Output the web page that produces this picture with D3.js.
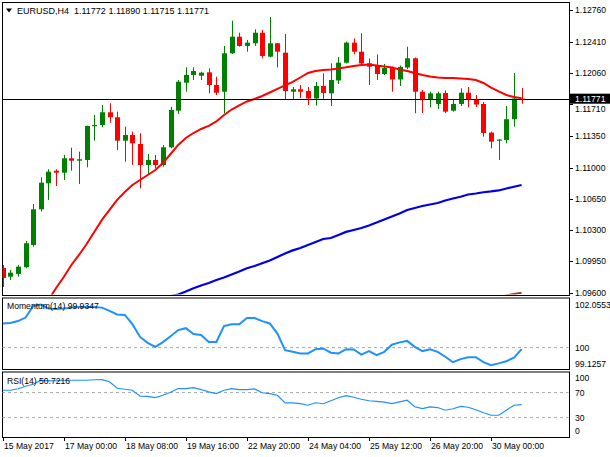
<!DOCTYPE html>
<html><head><meta charset="utf-8">
<script src="https://cdn.jsdelivr.net/npm/d3@7"></script>
<style>
body{margin:0;background:#fff;}
svg{display:block;}
text{font-family:"Liberation Sans",Arial,sans-serif;fill:#000;}
</style>
</head><body>
<svg id="c" width="610" height="457"></svg>
<script>
// ---------- DATA ----------
const symbol = "EURUSD,H4";
const open = [1.09877,1.09779,1.09810,1.09885,1.10134,1.10533,1.10824,1.10965,1.10943,1.11104,
1.11077,1.11085,1.11466,1.11477,1.11619,1.11563,1.11301,1.11365,1.11264,1.11029,
1.11085,1.11029,1.11227,1.11637,1.11950,1.12036,1.12028,1.12066,1.11924,1.11849,
1.12279,1.12465,1.12361,1.12391,1.12509,1.12241,1.12391,1.12286,1.11849,1.11876,
1.11857,1.11773,1.11913,1.11831,1.11975,1.12174,1.12398,1.12297,1.12167,1.12137,
1.12047,1.12114,1.11986,1.12120,1.12223,1.11849,1.11762,1.11712,1.11835,1.11637,
1.11712,1.11838,1.11768,1.11712,1.11391,1.11301,1.11309,1.11541,1.11772];
const high = [1.09910,1.09854,1.09910,1.10179,1.10593,1.10892,1.10981,1.10981,1.11141,1.11223,
1.11178,1.11470,1.11589,1.11700,1.11720,1.11626,1.11458,1.11402,1.11384,1.11152,
1.11141,1.11253,1.11681,1.11980,1.12122,1.12122,1.12073,1.12111,1.12017,1.12361,
1.12644,1.12509,1.12428,1.12547,1.12540,1.12685,1.12394,1.12495,1.11902,1.11924,
1.11902,1.11958,1.12055,1.12167,1.12238,1.12409,1.12445,1.12503,1.12221,1.12266,
1.12159,1.12131,1.12142,1.12353,1.12232,1.11868,1.11849,1.11849,1.11863,1.11762,
1.11887,1.11902,1.11812,1.11734,1.11402,1.11317,1.11689,1.12059,1.11890];
const low = [1.09664,1.09742,1.09779,1.09873,1.10115,1.10507,1.10638,1.10794,1.10861,1.10965,
1.10817,1.11003,1.11301,1.11451,1.11502,1.11197,1.11066,1.11029,1.10768,1.10917,
1.10992,1.11010,1.11216,1.11600,1.11849,1.11980,1.11980,1.11831,1.11812,1.11608,
1.12271,1.12353,1.12297,1.12361,1.12223,1.12234,1.12120,1.11756,1.11756,1.11779,
1.11700,1.11695,1.11768,1.11689,1.11935,1.12167,1.12266,1.12137,1.11924,1.11980,
1.12036,1.11849,1.11913,1.12103,1.11608,1.11611,1.11675,1.11656,1.11608,1.11626,
1.11689,1.11675,1.11678,1.11346,1.11216,1.11085,1.11272,1.11458,1.11715];
const close = [1.09765,1.09824,1.09891,1.10153,1.10533,1.10831,1.10954,1.10943,1.11104,1.11077,
1.11093,1.11466,1.11477,1.11619,1.11563,1.11301,1.11365,1.11272,1.11029,1.11085,
1.11029,1.11227,1.11645,1.11961,1.12036,1.12081,1.12062,1.11924,1.11838,1.12279,
1.12465,1.12361,1.12398,1.12509,1.12249,1.12391,1.12297,1.11857,1.11876,1.11849,
1.11773,1.11913,1.11835,1.11980,1.12174,1.12398,1.12297,1.12165,1.12129,1.12047,
1.12114,1.11986,1.12126,1.12223,1.11849,1.11762,1.11831,1.11831,1.11626,1.11712,
1.11838,1.11764,1.11706,1.11387,1.11290,1.11314,1.11541,1.11773,1.11771];
const maFast = [null,null,null,null,null,null,1.09519,1.09653,1.09776,1.09910,
1.10022,1.10145,1.10280,1.10414,1.10526,1.10638,1.10727,1.10805,1.10861,1.10917,
1.10973,1.11052,1.11152,1.11253,1.11331,1.11387,1.11432,1.11466,1.11516,1.11589,
1.11650,1.11695,1.11740,1.11768,1.11801,1.11840,1.11880,1.11919,1.11958,1.12008,
1.12059,1.12081,1.12092,1.12098,1.12109,1.12122,1.12137,1.12148,1.12154,1.12142,
1.12131,1.12120,1.12098,1.12081,1.12059,1.12036,1.12019,1.12008,1.12003,1.12003,
1.11997,1.11991,1.11980,1.11947,1.11896,1.11852,1.11812,1.11790,1.11775];
const maSlow = [null,null,null,null,null,null,null,null,null,null,
null,null,null,null,null,null,null,null,null,null,
null,1.09545,1.09563,1.09580,1.09614,1.09650,1.09681,1.09709,1.09742,1.09770,
1.09804,1.09838,1.09873,1.09899,1.09929,1.09961,1.10000,1.10039,1.10073,1.10100,
1.10134,1.10168,1.10201,1.10212,1.10246,1.10280,1.10302,1.10324,1.10352,1.10386,
1.10419,1.10453,1.10486,1.10526,1.10548,1.10570,1.10587,1.10604,1.10632,1.10654,
1.10674,1.10699,1.10710,1.10724,1.10733,1.10744,1.10766,1.10786,1.10805];
const maLong = [null,null,null,null,null,null,null,null,null,null,
null,null,null,null,null,null,null,null,null,null,
null,null,null,null,null,null,null,null,null,null,
null,null,null,null,null,null,null,null,null,null,
null,null,null,null,null,null,null,null,null,null,
null,null,null,null,null,null,null,null,null,null,
null,null,null,null,null,1.09550,1.09569,1.09586,1.09599];
const momentum = [101.02,101.04,101.12,101.27,101.76,101.82,101.65,101.63,101.65,101.69,
101.72,101.72,101.72,101.69,101.55,101.40,101.38,100.99,100.45,100.20,
100.03,100.23,100.48,100.74,100.82,100.57,100.53,100.24,100.24,100.91,
100.99,100.99,101.25,101.25,101.12,101.02,100.59,99.89,99.82,99.75,
99.75,99.93,99.96,99.78,99.75,99.93,99.92,99.70,99.85,99.68,
99.82,100.12,100.22,100.28,100.03,99.85,99.93,99.82,99.61,99.38,
99.51,99.59,99.59,99.38,99.25,99.33,99.42,99.57,99.9347];
const rsi = [73.7,73.7,76.1,80.1,83.3,89.7,88.6,88.9,89.7,89.7,
89.7,89.7,90.5,90.8,87.3,76.9,75.3,73.7,64.1,63.8,
62.0,65.7,70.5,76.4,76.4,78.0,74.8,71.0,68.4,73.7,
76.4,74.8,74.8,75.8,69.7,68.4,65.7,53.4,53.4,52.4,
49.7,53.7,52.1,56.9,61.7,65.2,62.5,59.3,56.9,55.8,
54.8,52.4,55.0,57.7,47.3,44.4,47.0,46.0,41.7,44.1,
47.8,46.5,42.5,37.7,33.7,33.7,41.7,49.7,50.7216];
const priceTicks = [1.12760,1.12410,1.12060,1.11710,1.11350,1.11000,1.10650,1.10300,1.09950,1.09600];
const momTicks = [102.0553,100,99.1257];
const momLevel = 100;
const rsiTicks = [100,70,30,0];
const rsiLevels = [70,30];
const timeLabels = ["15 May 2017","17 May 00:00","18 May 08:00","19 May 16:00","22 May 20:00","24 May 04:00","25 May 12:00","26 May 20:00","30 May 00:00"];
const timeLabelBars = [0,8,16,24,32,40,48,56,64];

// ---------- LAYOUT ----------
const svg = d3.select("#c");
const L = 2, R = 569;
const main = {top:2, bottom:295};
const mom = {top:297.5, bottom:369};
const rs = {top:371.5, bottom:437};
const FS = 8.6;

const n = close.length;
const x = d3.scaleLinear().domain([0, n-1]).range([2.7, 521.6]);
const yP = d3.scaleLinear().domain([1.09574, 1.12853]).range([main.bottom, main.top]);
const yM = d3.scaleLinear().domain([99.1257, 102.0553]).range([368.2, 299]);
const yR = d3.scaleLinear().domain([0, 100]).range([436.3, 373.8]);

const defs = svg.append("defs");
function clip(id, p){
  defs.append("clipPath").attr("id", id).append("rect")
    .attr("x", L+0.5).attr("y", p.top+0.5).attr("width", R-L-1).attr("height", p.bottom-p.top-1);
}
clip("cm", main); clip("cmo", mom); clip("cr", rs);

// pane frames
[main, mom, rs].forEach(p => {
  svg.append("rect").attr("x", L+0.5).attr("y", p.top+0.5)
    .attr("width", R-L).attr("height", p.bottom-p.top)
    .attr("fill", "none").attr("stroke", "#000").attr("stroke-width", 1);
});

// ---------- MAIN PANE ----------
const gm = svg.append("g").attr("clip-path", "url(#cm)");
const idx = d3.range(n);
const up = "#008000", dn = "#ff0000";

function lineFor(arr, ys){
  return d3.line().defined(i => arr[i] != null).x(i => x(i)).y(i => ys(arr[i]));
}
gm.append("path").datum(idx).attr("d", lineFor(maLong, yP))
  .attr("fill","none").attr("stroke","#a0401a").attr("stroke-width",2);
gm.append("path").datum(idx).attr("d", lineFor(maSlow, yP))
  .attr("fill","none").attr("stroke","#0000e6").attr("stroke-width",2.2);

const cg = gm.selectAll("g.c").data(idx).join("g");
cg.append("line")
  .attr("x1", i => Math.round(x(i))+0.5).attr("x2", i => Math.round(x(i))+0.5)
  .attr("y1", i => yP(high[i])).attr("y2", i => yP(low[i]))
  .attr("stroke", i => close[i] >= open[i] ? up : dn).attr("stroke-width", 1);
cg.append("rect")
  .attr("x", i => Math.round(x(i))-2).attr("width", 5)
  .attr("y", i => yP(Math.max(open[i], close[i])))
  .attr("height", i => Math.max(1.2, Math.abs(yP(open[i]) - yP(close[i]))))
  .attr("fill", i => close[i] >= open[i] ? up : dn);

gm.append("path").datum(idx).attr("d", lineFor(maFast, yP))
  .attr("fill","none").attr("stroke","#ff0000").attr("stroke-width",2);

// bid line
const last = close[n-1];
svg.append("line").attr("x1", L).attr("x2", R)
  .attr("y1", Math.round(yP(last))+0.5).attr("y2", Math.round(yP(last))+0.5)
  .attr("stroke", "#000").attr("stroke-width", 1);

// title
svg.append("path").attr("d", "M6,8.5 L12,8.5 L9,12.5 Z").attr("fill", "#000");
svg.append("text").attr("x", 17).attr("y", 14).attr("font-size", 9)
  .attr("xml:space","preserve").style("white-space","pre")
  .text(symbol + "  " + [open[n-1], high[n-1], low[n-1], close[n-1]].map(v => v.toFixed(5)).join(" "));

// price axis
const yl = yP(last);
priceTicks.forEach(v => {
  const yy = yP(v);
  svg.append("line").attr("x1", R).attr("x2", R+4).attr("y1", Math.round(yy)+0.5).attr("y2", Math.round(yy)+0.5)
    .attr("stroke", "#000");
  // a tick label hidden under the current-price box is nudged just below it
  const ty = Math.abs(yy - yl) < 10 ? yl + 10.5 : yy;
  svg.append("text").attr("x", 575).attr("y", ty).attr("dy", "0.35em").attr("font-size", FS).text(v.toFixed(5));
});
// current price box
svg.append("rect").attr("x", 570).attr("y", yl-5).attr("width", 40).attr("height", 10).attr("fill", "#000");
svg.append("text").attr("x", 575).attr("y", yl).attr("dy", "0.35em").attr("font-size", FS)
  .style("fill", "#fff").text(last.toFixed(5));

// ---------- MOMENTUM ----------
const gmo = svg.append("g").attr("clip-path", "url(#cmo)");
gmo.append("line").attr("x1", L).attr("x2", R).attr("y1", yM(momLevel)).attr("y2", yM(momLevel))
  .attr("stroke", "#aaa").attr("stroke-dasharray", "3,3");
gmo.append("path").datum(idx).attr("d", lineFor(momentum, yM))
  .attr("fill","none").attr("stroke","#1e90ff").attr("stroke-width",2);
svg.append("text").attr("x", 7).attr("y", 309).attr("font-size", FS)
  .text("Momentum(14) " + momentum[n-1].toFixed(4));
momTicks.forEach(v => {
  const yy = Math.max(mom.top+7, Math.min(mom.bottom-5.5, yM(v)));
  svg.append("text").attr("x", 575).attr("y", yy).attr("dy", "0.35em").attr("font-size", FS).text(String(v));
});

// ---------- RSI ----------
const gr = svg.append("g").attr("clip-path", "url(#cr)");
rsiLevels.forEach(v => {
  gr.append("line").attr("x1", L).attr("x2", R).attr("y1", yR(v)).attr("y2", yR(v))
    .attr("stroke", "#aaa").attr("stroke-dasharray", "3,3");
});
gr.append("path").datum(idx).attr("d", lineFor(rsi, yR))
  .attr("fill","none").attr("stroke","#1e90ff").attr("stroke-width",1.2);
svg.append("text").attr("x", 7).attr("y", 384).attr("font-size", FS)
  .text("RSI(14) " + rsi[n-1].toFixed(4));
rsiTicks.forEach(v => {
  const yy = Math.max(rs.top+6.5, Math.min(rs.bottom-6, yR(v)));
  svg.append("text").attr("x", 575).attr("y", yy).attr("dy", "0.35em").attr("font-size", FS).text(String(v));
});

// ---------- TIME AXIS ----------
timeLabelBars.forEach((b, k) => {
  const xx = Math.round(x(b))+0.5;
  svg.append("line").attr("x1", xx).attr("x2", xx).attr("y1", rs.bottom).attr("y2", rs.bottom+4)
    .attr("stroke", "#000");
  svg.append("text").attr("x", xx+0.5).attr("y", 449).attr("font-size", FS).text(timeLabels[k]);
});
</script>
</body></html>
